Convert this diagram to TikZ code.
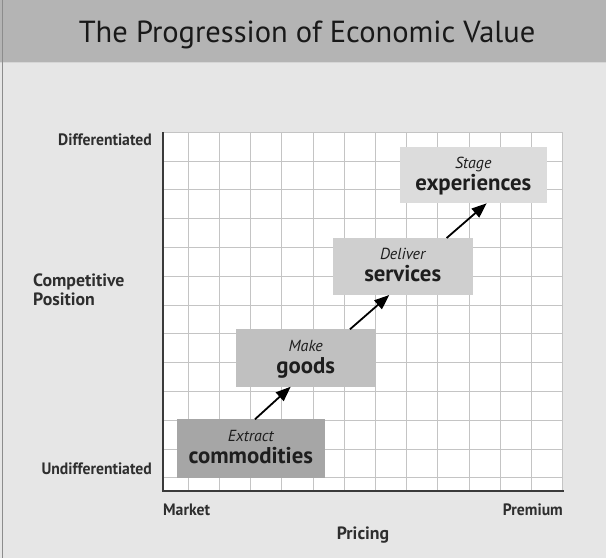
\documentclass[tikz,border=0pt]{standalone}
\usepackage{fontspec}
\setmainfont{PT Sans}
\newfontfamily\condfont{PT Sans}[FakeStretch=0.95]
\usetikzlibrary{arrows.meta,calc}
\definecolor{titlebar}{HTML}{B4B4B4}
\definecolor{bgc}{HTML}{E6E6E6}
\definecolor{gridc}{HTML}{C4C4C4}
\definecolor{axisc}{HTML}{3A3A3A}
\definecolor{txtc}{HTML}{1E1E1E}
\definecolor{lblc}{HTML}{2E2E2E}
\definecolor{c1}{HTML}{A6A6A6}
\definecolor{c2}{HTML}{C0C0C0}
\definecolor{c3}{HTML}{CFCFCF}
\definecolor{c4}{HTML}{DCDCDC}
\tikzset{
  stagebox/.style={draw=none, inner sep=0pt, outer sep=0pt},
  verb/.style={anchor=base, inner sep=0pt, text=txtc, font=\fontsize{16}{18}\selectfont\itshape},
  noun/.style={anchor=base, inner sep=0pt, text=txtc, font=\fontsize{22.8}{25}\selectfont\bfseries},
  axlabel/.style={inner sep=0pt, text=lblc, font=\fontsize{16.5}{18}\selectfont\condfont\bfseries},
  ylabel/.style={inner sep=0pt, text=lblc, font=\fontsize{17.8}{19}\selectfont\bfseries, align=left},
  progarrow/.style={-{Triangle[length=15pt,width=11.5pt]}, line width=1.8pt, black}
}
\begin{document}
\begin{tikzpicture}[x=1pt,y=-1pt]
\useasboundingbox (0,0) rectangle (606,558);
% background
\fill[bgc] (0,0) rectangle (606,558);
\fill[titlebar] (0,0) rectangle (606,61.5);
\draw[line width=1pt, color=gridc!70!white] (0,62) -- (606,62);
\draw[line width=1.5pt, color=black!45] (2.5,0) -- (2.5,558);
\node[inner sep=0pt, anchor=base, text=black!90, font=\fontsize{30.5}{32}\selectfont] (title) at (307,42.3) {The Progression of Economic Value};
% grid
\fill[white] (163,132.3) rectangle (562.7,491);
\foreach \k in {0,...,11} {
  \draw[gridc, line width=1pt] ({188.3+31.2*\k},132.3) -- ({188.3+31.2*\k},491);
}
\draw[gridc, line width=1pt] (562.7,132.3) -- (562.7,491);
\foreach \k in {0,...,12} {
  \draw[gridc, line width=1pt] (163,{132.3+28.8*\k}) -- (562.7,{132.3+28.8*\k});
}
\draw[axisc, line width=1.6pt] (163,132.3) -- (163,491) -- (563.5,491);
% boxes
\node[stagebox, fill=c1, minimum width=148.3pt, minimum height=59pt] (comm) at (250.8,448.8) {};
\node[stagebox, fill=c2, minimum width=140pt, minimum height=57.4pt] (goods) at (305.7,358) {};
\node[stagebox, fill=c3, minimum width=140pt, minimum height=57pt] (serv) at (402.7,266.5) {};
\node[stagebox, fill=c4, minimum width=146.7pt, minimum height=56.6pt] (exp) at (473.3,175) {};
% box texts
\node[verb] (commv) at ($(comm.center)+(0,-7)$) {Extract};
\node[noun] (commn) at ($(comm.center)+(0,15)$) {commodities};
\node[verb] (goodsv) at ($(goods.center)+(0,-7)$) {Make};
\node[noun] (goodsn) at ($(goods.center)+(0,15)$) {goods};
\node[verb] (servv) at ($(serv.center)+(0,-7)$) {Deliver};
\node[noun] (servn) at ($(serv.center)+(0,15)$) {services};
\node[verb] (expv) at ($(exp.center)+(0,-7)$) {Stage};
\node[noun] (expn) at ($(exp.center)+(0,15)$) {experiences};
% arrows
\draw[progarrow] ($(comm.north west)!0.528!(comm.north east)$) -- ($(goods.south west)!0.393!(goods.south east)$);
\draw[progarrow] ($(goods.north west)!0.816!(goods.north east)$) -- ($(serv.south west)!0.404!(serv.south east)$);
\draw[progarrow] ($(serv.north west)!0.814!(serv.north east)$) -- ($(exp.south west)!0.591!(exp.south east)$);
% axis labels
\node[axlabel, anchor=base east] (diff) at (152,145) {Differentiated};
\node[axlabel, anchor=base east] (undiff) at (152,474) {Undifferentiated};
\node[ylabel, anchor=base west] (comp) at (33,286.7) {Competitive};
\node[ylabel, anchor=base west] (pos) at (33,305.7) {Position};
\node[axlabel, anchor=base west] (market) at (163,515) {Market};
\node[axlabel, anchor=base east] (premium) at (563,515) {Premium};
\node[ylabel, anchor=base] (pricing) at (363,539.3) {Pricing};
\end{tikzpicture}
\end{document}
